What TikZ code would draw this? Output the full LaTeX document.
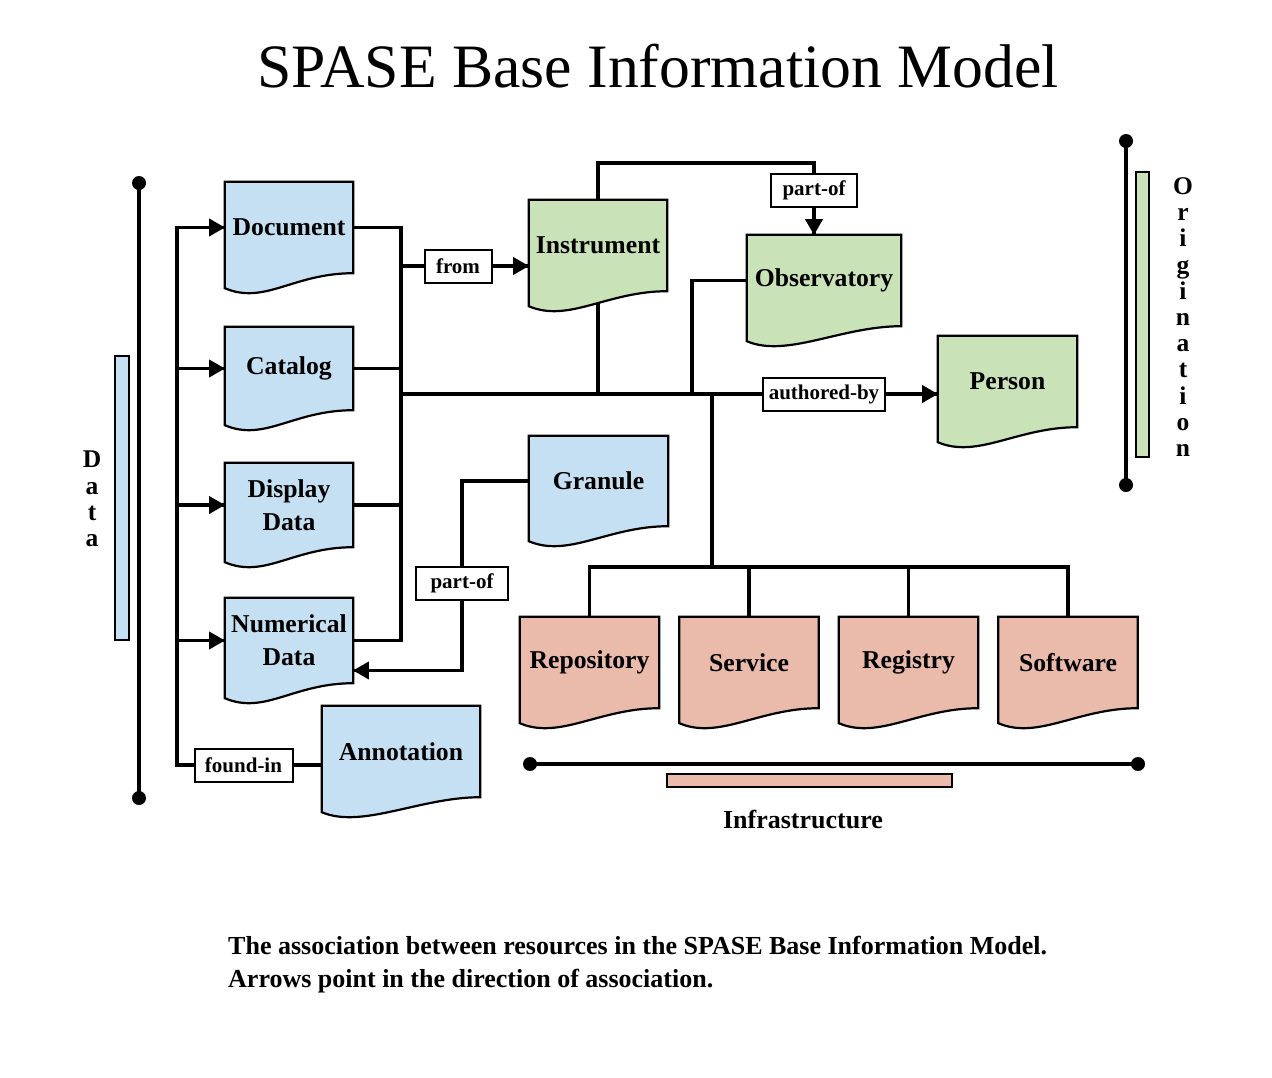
\documentclass[tikz,border=0pt]{standalone}
\usepackage{fontspec}
\setmainfont{Liberation Serif}
\usetikzlibrary{arrows}
\usetikzlibrary{decorations.markings}
\usetikzlibrary{calc}
\usetikzlibrary{backgrounds}
\tikzset{->/.style = {decoration={markings,
                                  mark=at position 1 with {\arrow[scale=1]{triangle 60}}},
                      postaction={decorate}}}
\tikzset{dot/.style = {fill, circle, inner sep = 0, minimum size = 14}}
\tikzset{wire/.style = {line width = 3.4pt, line cap = rect}}
\tikzset{res/.style = {inner sep = 0, minimum width = 139, minimum height = 91, align = center,
                       font = \bfseries\fontsize{25.7}{33}\selectfont}}
\tikzset{tag/.style = {draw, fill = white, line width = 2pt, inner xsep = 6, inner ysep = 0,
                       minimum height = 33, minimum width = 67, font = \bfseries\fontsize{21}{24}\selectfont}}
\tikzset{bar/.style = {draw, line width = 2pt, inner sep = 0}}
\tikzset{stack/.style = {align = center, inner sep = 0, font = \bfseries\fontsize{25.5}{26.2}\selectfont}}
\definecolor{sblue}{RGB}{197, 224, 242}
\definecolor{sgreen}{RGB}{201, 226, 183}
\definecolor{spink}{RGB}{234, 186, 171}

\begin{document}
\begin{tikzpicture}[x=1pt, y=-1pt]
    \useasboundingbox (0, 0) rectangle (1272, 1077);
    \node [font=\fontsize{61.7}{70}\selectfont] (title) at (658, 66) {SPASE Base Information Model};

    % data
    \node [res, minimum width=128] (doc) at (289, 227.5) {Document};
    \node [res, minimum width=128, minimum height=83] (cat) at (289, 368.5) {Catalog};
    \node [res, minimum width=128, minimum height=84] (disp) at (289, 505) {Display\\Data};
    \node [res, minimum width=128, minimum height=85] (num) at (289, 640.5) {Numerical\\Data};
    \node [res, minimum width=158] (anno) at (401, 751.5) {Annotation};
    \node [res, minimum height=90] (gran) at (598.5, 481) {Granule};
    % origination
    \node [res, minimum width=138] (inst) at (598, 245.5) {Instrument};
    \node [res, minimum width=154] (obs) at (824, 280.5) {Observatory};
    \node [res] (pers) at (1007.5, 381.5) {Person};
    % infrastructure
    \node [res] (repo) at (589.5, 662.5) {Repository};
    \node [res] (serv) at (749, 662.5) {Service};
    \node [res] (reg) at (908.5, 662.5) {Registry};
    \node [res] (soft) at (1068, 662.5) {Software};

    \node [tag] (from) at (458, 266) {from};
    \node [tag, minimum width=86] (partup) at (814, 190.5) {part-of};
    \node [tag] (authby) at (824, 394) {authored-by};
    \node [tag, minimum width=92] (partlow) at (462, 583.5) {part-of};
    \node [tag, minimum width=98] (found) at (243.5, 765) {found-in};

    \coordinate (lbus) at (177, 0);
    \coordinate (rbus) at (401, 0);
    \coordinate (ptop) at (814, 163);
    \coordinate (obsbus) at (692, 0);
    \coordinate (trunk) at (712, 567);

    \begin{pgfonlayer}{background}
      \draw [wire] (lbus |- doc.west) -- (lbus |- found) -- (found.west);
      \foreach \n in {doc, cat, disp, num}
        \draw [wire, ->] (lbus |- \n.west) -- (\n.west);
      \draw [wire] (found.east) -- (found.east -| anno.west);
      \foreach \n in {doc, cat, disp, num}
        \draw [wire] (\n.east) -- (rbus |- \n.east);
      \draw [wire] (rbus |- doc.east) -- (rbus |- num.east);
      \draw [wire] (rbus |- from) -- (from.west);
      \draw [wire, ->] (from.east) -- (from.east -| inst.west);
      \draw [wire] (rbus |- authby) -- (authby.west);
      \draw [wire, ->] (authby.east) -- (authby.east -| pers.west);
      \draw [wire] (inst.center) -- (inst.center |- authby);
      \draw [wire] (inst.north) |- (ptop) -- (partup.north);
      \draw [wire, ->] (partup.south) -- (partup.south |- obs.north);
      \draw [wire] (obs.west) -| (obsbus |- authby);
      \draw [wire] (trunk |- authby) -- (trunk);
      \draw [wire] (repo.north |- trunk) -- (soft.north |- trunk);
      \foreach \n in {repo, serv, reg, soft}
        \draw [wire] (\n.north |- trunk) -- (\n.north);
      \draw [wire] (gran.west) -| (partlow.north);
      \draw [wire, ->] (partlow.south) |- ($(num.east) + (0, 30)$);

      % wavy bottoms
      \foreach \n/\c in {doc/sblue, cat/sblue, disp/sblue, num/sblue, anno/sblue, gran/sblue,
                         inst/sgreen, obs/sgreen, pers/sgreen,
                         repo/spink, serv/spink, reg/spink, soft/spink}
        \draw [line width=2.2pt, fill=\c] (\n.south east) -- (\n.north east) -- (\n.north west)
          -- ($(\n.south west) + (0, 15)$)
          .. controls ($(\n.south west) + (40, 32)$) and ($(\n.south east) + (-60, 0)$) .. (\n.south east) -- cycle;
    \end{pgfonlayer}

    % data
    \node [dot] (dtop) at (139, 183) {};
    \node [dot] (dbot) at (139, 798) {};
    \draw [wire] (dtop) -- (dbot);
    \node [bar, fill=sblue, minimum width=14, minimum height=284] (dbar) at (122, 498) {};
    \node [stack] (dname) at (92, 499) {D\\a\\t\\a};

    % origination
    \node [dot] (otop) at (1126, 141) {};
    \node [dot] (obot) at (1126, 485) {};
    \draw [wire] (otop) -- (obot);
    \node [bar, fill=sgreen, minimum width=13, minimum height=285] (obar) at (1142.5, 314.5) {};
    \node [stack] (oname) at (1183, 317) {O\\r\\i\\g\\i\\n\\a\\t\\i\\o\\n};

    % infrastructure
    \node [dot] (ileft) at (530, 764) {};
    \node [dot] (iright) at (1138, 764) {};
    \draw [wire] (ileft) -- (iright);
    \node [bar, fill=spink, minimum width=285, minimum height=13] (ibar) at (809, 780.5) {};
    \node [font=\bfseries\fontsize{26}{30}\selectfont] (iname) at (803, 819) {Infrastructure};

    \node [anchor=west, align=left, inner sep=0, font=\bfseries\fontsize{26}{33}\selectfont] (caption) at (228, 964.5)
      {The association between resources in the SPASE Base Information Model.\\
       Arrows point in the direction of association.};
  \end{tikzpicture}
\end{document}
